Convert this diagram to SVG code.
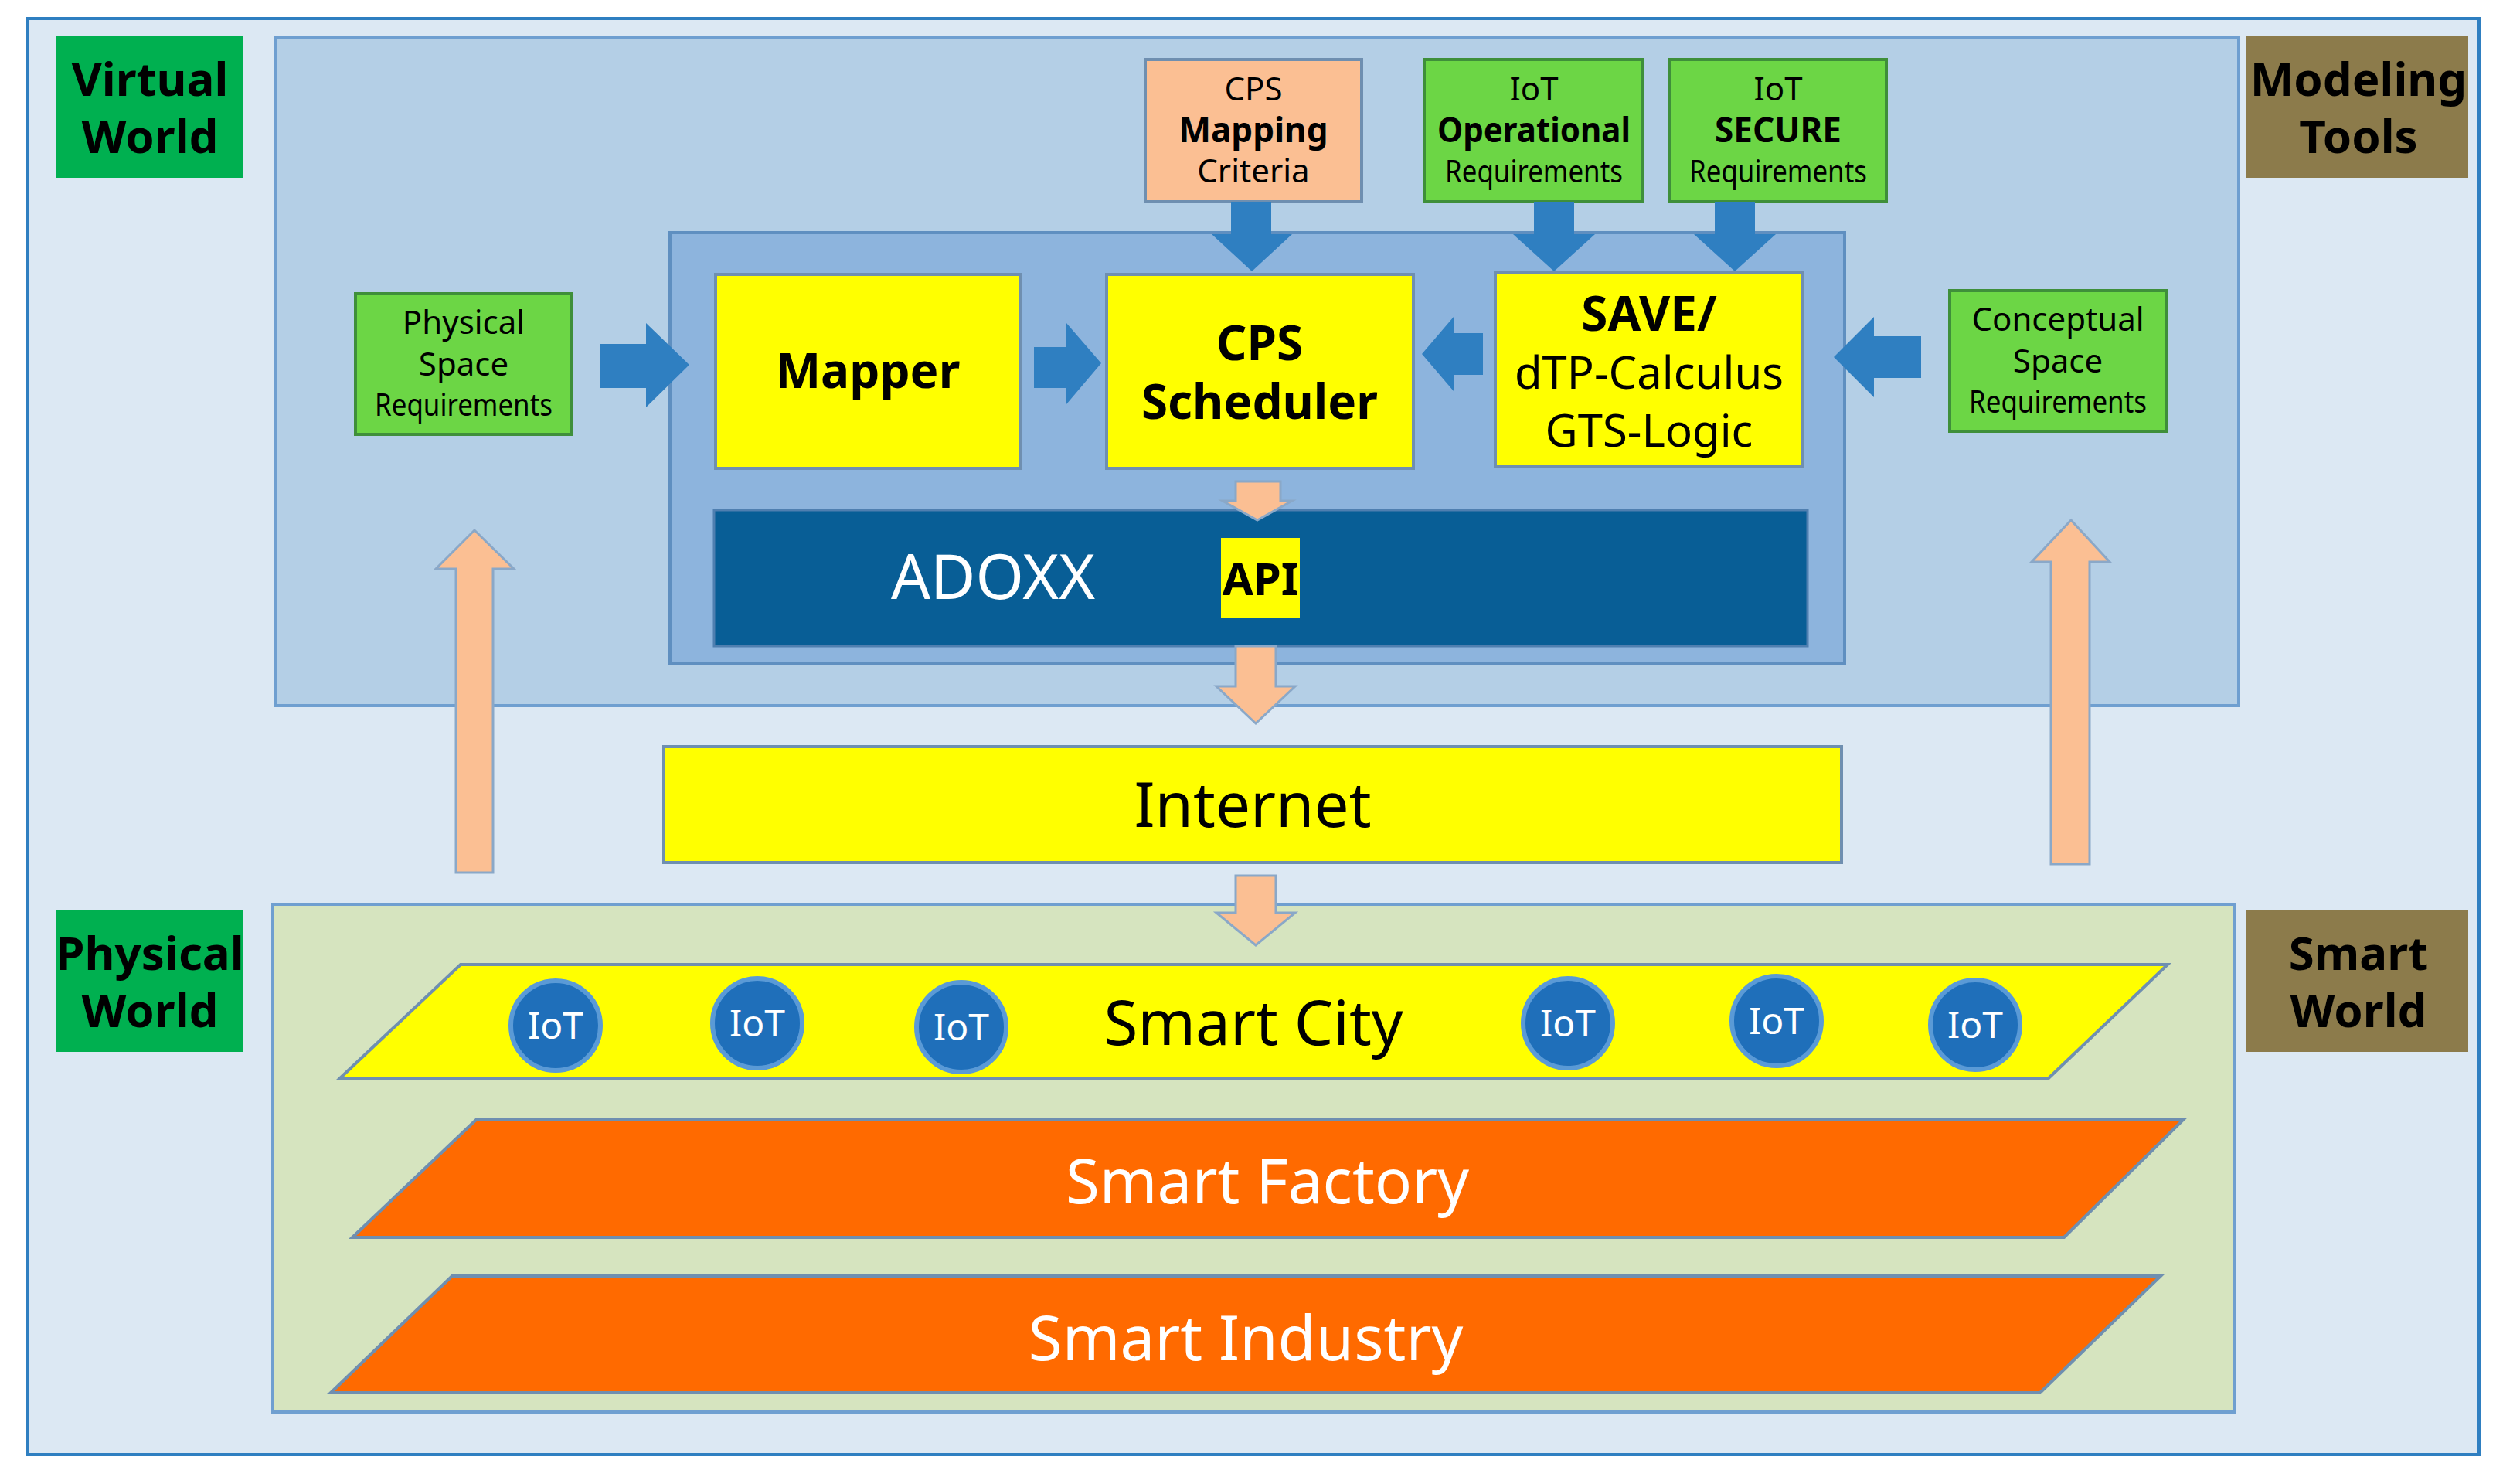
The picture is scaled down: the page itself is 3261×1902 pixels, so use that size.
<svg xmlns="http://www.w3.org/2000/svg" width="3261" height="1902" viewBox="0 0 3261 1902">
<style>
text{font-family:"Noto Sans","Open Sans","Liberation Sans",sans-serif;text-anchor:middle}
.b{font-weight:bold}
.lbl{stroke:none}
.grn{fill:#6cd645;stroke:#3f8f3a;stroke-width:4}
.yel{fill:#ffff00;stroke:#6f8fb0;stroke-width:4}
.blueA{fill:#2f7fc1}
.orA{fill:#fbbf93;stroke:#8aa8c8;stroke-width:3}
.iot{fill:#1f6fba;stroke:#5a9ad6;stroke-width:6}
</style>
<rect x="36" y="24" width="3172" height="1858" fill="#dce8f3" stroke="#2f7fc1" stroke-width="4"/>
<g id="upper"><rect x="357" y="48" width="2540" height="865" fill="#b4cfe6" stroke="#6f9fd0" stroke-width="4"/></g>
<g id="inner"><rect x="867" y="301" width="1520" height="558" fill="#8db4dd" stroke="#5f8fc0" stroke-width="4"/></g>
<g id="lower"><rect x="353" y="1170" width="2538" height="657" fill="#d6e4bf" stroke="#6f9fd0" stroke-width="4"/></g>
<g id="virtual"><rect x="73" y="46" width="241" height="184" fill="#00b050"/><text x="194" y="124" font-size="60" class="b">Virtual</text><text x="194" y="198" font-size="60" class="b">World</text></g>
<g id="physical"><rect x="73" y="1177" width="241" height="184" fill="#00b050"/><text x="194" y="1255" font-size="60" class="b">Physical</text><text x="194" y="1329" font-size="60" class="b">World</text></g>
<g id="modeling"><rect x="2907" y="46" width="287" height="184" fill="#8c7b4b"/><text x="3052" y="124" font-size="60" class="b">Modeling</text><text x="3052" y="198" font-size="60" class="b">Tools</text></g>
<g id="smartworld"><rect x="2907" y="1177" width="287" height="184" fill="#8c7b4b"/><text x="3052" y="1255" font-size="60" class="b">Smart</text><text x="3052" y="1329" font-size="60" class="b">World</text></g>
<g id="cpsmap"><rect x="1482" y="77" width="280" height="184" fill="#fbbf93" stroke="#6f8fb0" stroke-width="4"/><text x="1622" y="130" font-size="42">CPS</text><text x="1622" y="184" font-size="44" class="b">Mapping</text><text x="1622" y="236" font-size="42">Criteria</text></g>
<g id="iotop"><rect x="1843" y="77" width="283" height="184" class="grn"/><text x="1985" y="130" font-size="42">IoT</text><text x="1985" y="184" font-size="44" class="b" textLength="250" lengthAdjust="spacingAndGlyphs">Operational</text><text x="1985" y="236" font-size="40" textLength="230" lengthAdjust="spacingAndGlyphs">Requirements</text></g>
<g id="iotsec"><rect x="2161" y="77" width="280" height="184" class="grn"/><text x="2301" y="130" font-size="42">IoT</text><text x="2301" y="184" font-size="44" class="b">SECURE</text><text x="2301" y="236" font-size="40" textLength="230" lengthAdjust="spacingAndGlyphs">Requirements</text></g>
<g id="physreq"><rect x="460" y="380" width="280" height="182" class="grn"/><text x="600" y="432" font-size="42">Physical</text><text x="600" y="486" font-size="42">Space</text><text x="600" y="538" font-size="40" textLength="230" lengthAdjust="spacingAndGlyphs">Requirements</text></g>
<g id="concreq"><rect x="2523" y="376" width="280" height="182" class="grn"/><text x="2663" y="428" font-size="42">Conceptual</text><text x="2663" y="482" font-size="42">Space</text><text x="2663" y="534" font-size="40" textLength="230" lengthAdjust="spacingAndGlyphs">Requirements</text></g>
<g id="mapper"><rect x="926" y="355" width="395" height="251" class="yel"/><text x="1123" y="502" font-size="62" class="b">Mapper</text></g>
<g id="sched"><rect x="1432" y="355" width="397" height="251" class="yel"/><text x="1630" y="466" font-size="62" class="b">CPS</text><text x="1630" y="542" font-size="62" class="b">Scheduler</text></g>
<g id="save"><rect x="1935" y="353" width="398" height="251" class="yel"/><text x="2134" y="428" font-size="62" class="b">SAVE/</text><text x="2134" y="503" font-size="58">dTP-Calculus</text><text x="2134" y="578" font-size="58">GTS-Logic</text></g>
<g id="adoxx"><rect x="924" y="660" width="1415" height="176" fill="#085e96" stroke="#4f7fb0" stroke-width="3"/><text x="1285" y="775" font-size="80" fill="#fff">ADOXX</text><rect x="1580" y="696" width="102" height="104" fill="#ffff00"/><text x="1631" y="770" font-size="58" class="b">API</text></g>
<g id="internet"><rect x="859" y="966" width="1524" height="150" class="yel"/><text x="1621" y="1070" font-size="80">Internet</text></g>
<g id="smartcity"><polygon points="439,1396 596,1248 2805,1248 2650,1396" fill="#ffff00" stroke="#6f8fb0" stroke-width="4"/><text x="1622" y="1352" font-size="80">Smart City</text>
<g font-size="48" fill="#fff"><circle cx="719" cy="1327" r="58" class="iot"/><text x="719" y="1344" fill="#fff">IoT</text><circle cx="980" cy="1324" r="58" class="iot"/><text x="980" y="1341" fill="#fff">IoT</text><circle cx="1244" cy="1329" r="58" class="iot"/><text x="1244" y="1346" fill="#fff">IoT</text><circle cx="2029" cy="1324" r="58" class="iot"/><text x="2029" y="1341" fill="#fff">IoT</text><circle cx="2299" cy="1321" r="58" class="iot"/><text x="2299" y="1338" fill="#fff">IoT</text><circle cx="2556" cy="1326" r="58" class="iot"/><text x="2556" y="1343" fill="#fff">IoT</text></g></g>
<g id="factory"><polygon points="456,1601 617,1448 2826,1448 2671,1601" fill="#ff6a00" stroke="#6f8fb0" stroke-width="4"/><text x="1640" y="1557" font-size="80" fill="#fff">Smart Factory</text></g>
<g id="industry"><polygon points="428,1802 585,1651 2796,1651 2640,1802" fill="#ff6a00" stroke="#6f8fb0" stroke-width="4"/><text x="1612" y="1760" font-size="80" fill="#fff">Smart Industry</text></g>
<g id="connectors">
<polygon class="blueA" points="1593,261 1645,261 1645,303 1672,303 1620,351 1568,303 1593,303"/>
<polygon class="blueA" points="1985,261 2037,261 2037,303 2064,303 2011,351 1958,303 1985,303"/>
<polygon class="blueA" points="2219,261 2271,261 2271,303 2298,303 2245,351 2192,303 2219,303"/>
<polygon class="blueA" points="777,445 836,445 836,418 892,472 836,527 836,502 777,502"/>
<polygon class="blueA" points="1338,449 1380,449 1380,418 1425,470 1380,523 1380,502 1338,502"/>
<polygon class="blueA" points="1919,431 1881,431 1881,410 1840,458 1881,506 1881,485 1919,485"/>
<polygon class="blueA" points="2486,435 2425,435 2425,410 2373,462 2425,514 2425,489 2486,489"/>
<polygon class="orA" points="1599,623 1657,623 1657,648 1672,648 1627,673 1582,648 1599,648"/>
<polygon class="orA" points="1599,836 1651,836 1651,888 1676,888 1625,936 1574,888 1599,888"/>
<polygon class="orA" points="1599,1133 1651,1133 1651,1181 1676,1181 1625,1223 1574,1181 1599,1181"/>
<polygon class="orA" points="590,1129 638,1129 638,736 665,736 614,686 564,736 590,736"/>
<polygon class="orA" points="2654,1118 2704,1118 2704,727 2730,727 2680,673 2629,727 2654,727"/>
</g>
</svg>
